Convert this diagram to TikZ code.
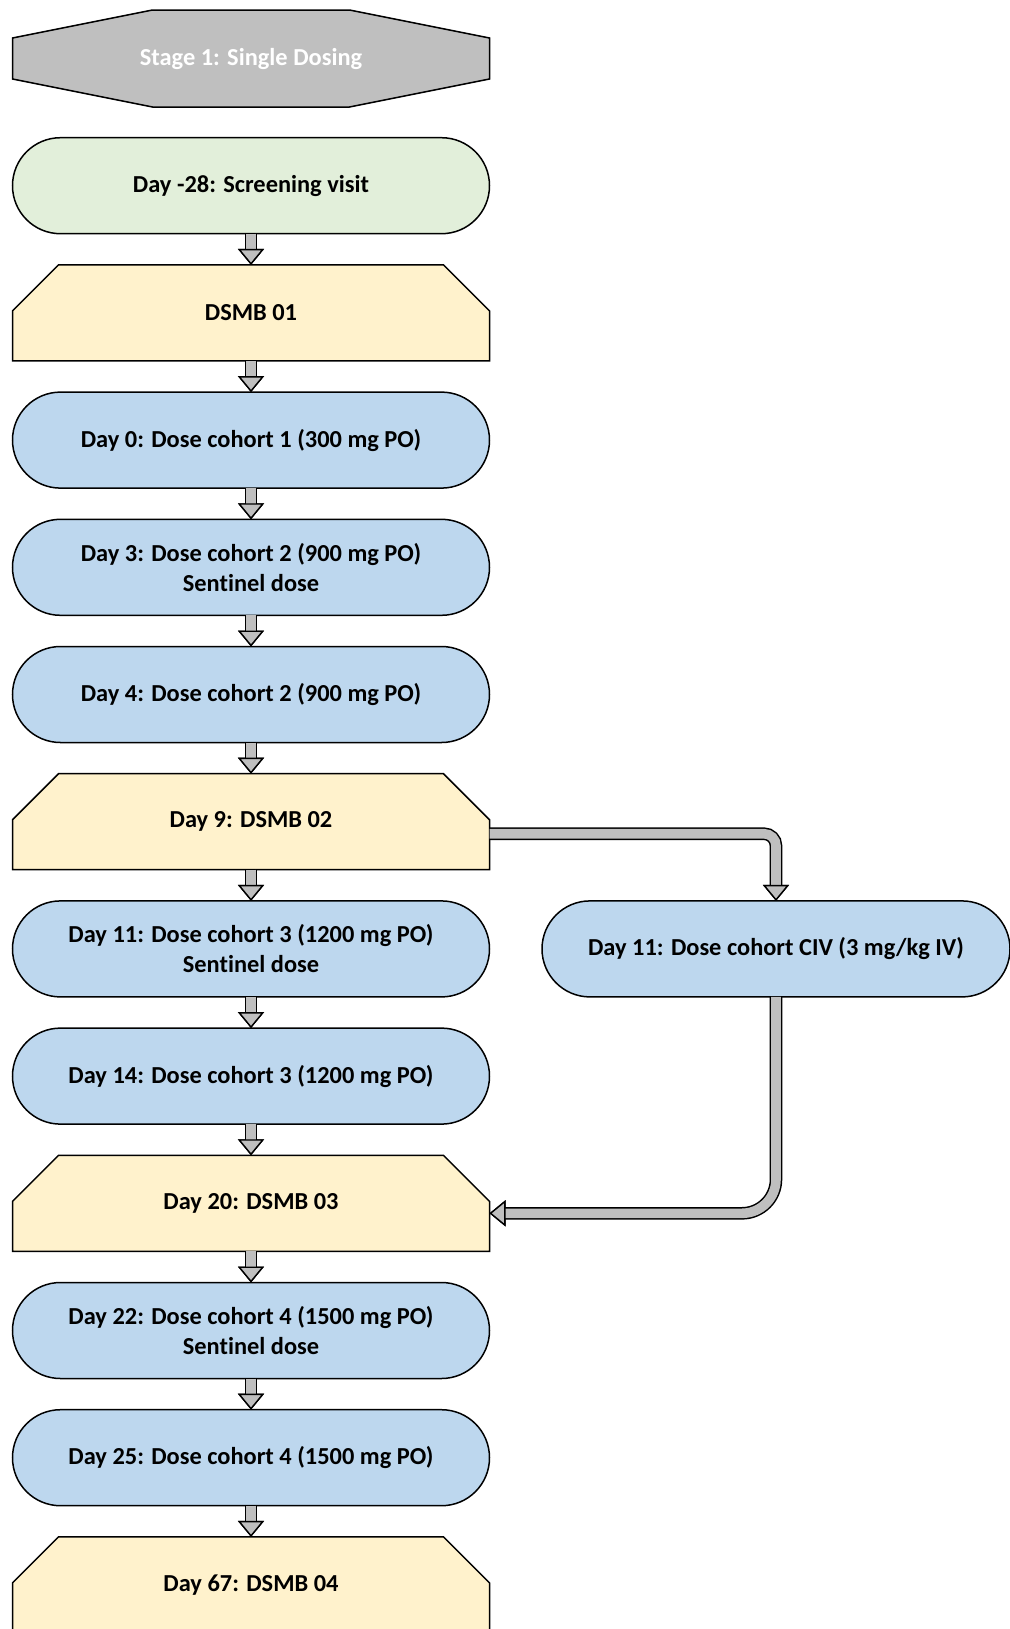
\documentclass[tikz,border=0pt]{standalone}
\usepackage{fontspec}
\setmainfont{Carlito}[Ligatures=NoCommon]
\usetikzlibrary{positioning, arrows.meta, calc, backgrounds}

\definecolor{stagegray}{RGB}{191,191,191}
\definecolor{screengreen}{RGB}{226,239,218}
\definecolor{dsmbyellow}{RGB}{255,242,204}
\definecolor{doseblue}{RGB}{189,215,238}
\definecolor{flowgray}{RGB}{191,191,191}

\begin{document}
\begin{tikzpicture}[node distance=63.6pt, on grid,
    font=\fontsize{12.2}{15}\selectfont\bfseries,
    box/.style={minimum width=238.5pt, minimum height=48pt, inner sep=0pt,
      outer sep=0pt, align=center},
    visit/.style={box, draw, line width=0.75pt, rounded corners=24pt},
    dose/.style={visit, fill=doseblue},
    dsmb/.style={box},
    outline/.style={draw, line width=0.75pt, line join=miter},
    flow/.style={draw=flowgray, line width=4.8pt,
      preaction={draw=black, line width=6.3pt},
      -{Triangle[width=13pt, length=8pt, line width=0.7pt, color=black, fill=flowgray]}}]
    \useasboundingbox (0,0) rectangle (504.5pt,-814.5pt);

    % Steps
    \node[box, minimum height=48.5pt, text=white] (stage) at (125.5pt,-29.25pt) {Stage 1: Single Dosing};
    \node[visit, fill=screengreen, below=of stage] (screen) {Day -28: Screening visit};
    \node[dsmb, below=of screen]   (dsmb1) {DSMB 01};
    \node[dose, below=of dsmb1]    (day0)  {Day 0: Dose cohort 1 (300 mg PO)};
    \node[dose, below=of day0]     (day3)  {Day 3: Dose cohort 2 (900 mg PO)\\Sentinel dose};
    \node[dose, below=of day3]     (day4)  {Day 4: Dose cohort 2 (900 mg PO)};
    \node[dsmb, below=of day4]     (dsmb2) {Day 9: DSMB 02};
    \node[dose, below=of dsmb2]    (day11) {Day 11: Dose cohort 3 (1200 mg PO)\\Sentinel dose};
    \node[dose, minimum width=234pt, right=262.5pt of day11] (civ) {Day 11: Dose cohort CIV (3 mg/kg IV)};
    \node[dose, below=of day11]    (day14) {Day 14: Dose cohort 3 (1200 mg PO)};
    \node[dsmb, below=of day14]    (dsmb3) {Day 20: DSMB 03};
    \node[dose, below=of dsmb3]    (day22) {Day 22: Dose cohort 4 (1500 mg PO)\\Sentinel dose};
    \node[dose, below=of day22]    (day25) {Day 25: Dose cohort 4 (1500 mg PO)};
    \node[dsmb, below=of day25]    (dsmb4) {Day 67: DSMB 04};

    % Outlines behind the text
    \begin{scope}[on background layer]
      \draw[outline, fill=stagegray]
        ($(stage.north west)+(70pt,0)$) -- ($(stage.north east)+(-70pt,0)$)
        -- ($(stage.north east)+(0,-14pt)$) -- ($(stage.south east)+(0,14pt)$)
        -- ($(stage.south east)+(-70pt,0)$) -- ($(stage.south west)+(70pt,0)$)
        -- ($(stage.south west)+(0,14pt)$) -- ($(stage.north west)+(0,-14pt)$) -- cycle;
      \foreach \n in {dsmb1, dsmb2, dsmb3, dsmb4}
        \draw[outline, fill=dsmbyellow]
          (\n.south west) -- ($(\n.north west)+(0,-23pt)$) -- ($(\n.north west)+(23pt,0)$)
          -- ($(\n.north east)+(-23pt,0)$) -- ($(\n.north east)+(0,-23pt)$)
          -- (\n.south east) -- cycle;
    \end{scope}

    % Flow
    \foreach \a/\b in {screen/dsmb1, dsmb1/day0, day0/day3, day3/day4, day4/dsmb2,
        dsmb2/day11, day11/day14, day14/dsmb3, dsmb3/day22, day22/day25, day25/dsmb4}
      \draw[flow] (\a) -- (\b);
    \draw[flow, rounded corners=6pt] ([yshift=-6pt]dsmb2.east) -| (civ);
    \draw[flow, rounded corners=17pt] (civ) |- ([yshift=-5pt]dsmb3.east);
\end{tikzpicture}
\end{document}
